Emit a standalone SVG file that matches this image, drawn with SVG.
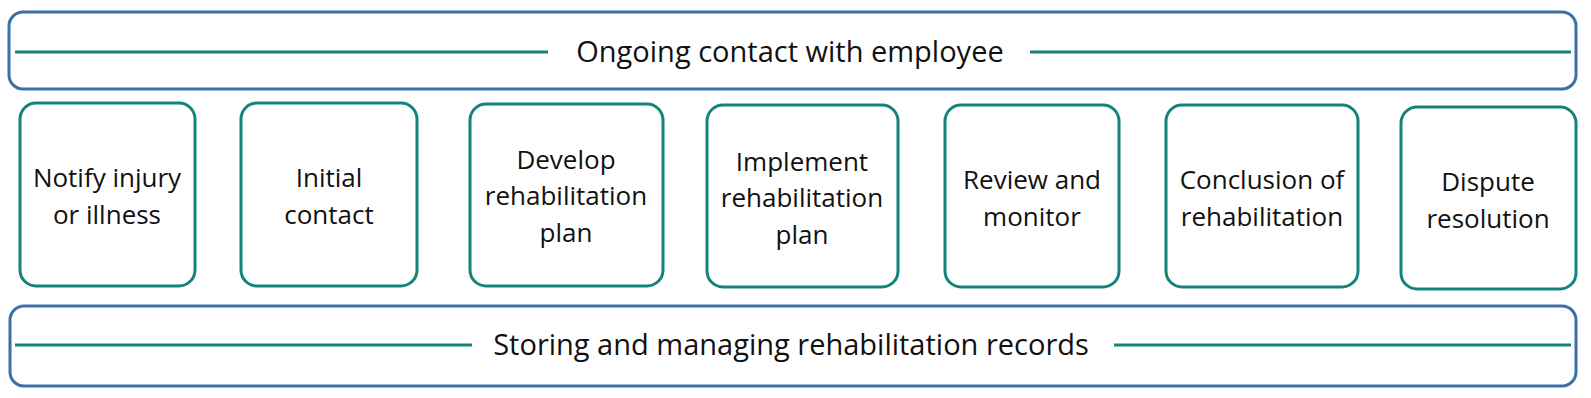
<svg xmlns="http://www.w3.org/2000/svg" width="1591" height="398" viewBox="0 0 1591 398">
<style>
.band{fill:#fff;stroke:#3B71A6;stroke-width:3}
.node{fill:#fff;stroke:#14837B;stroke-width:3}
.ln{stroke:#14837B;stroke-width:3}
text{font-family:"Open Sans","Liberation Sans",sans-serif;font-size:26px;fill:#111;text-anchor:middle}
.bt{font-size:29px}
</style>
<rect width="1591" height="398" fill="#fff"/>
<g id="band-top">
<rect class="band" x="9" y="12" width="1567" height="77" rx="14"/>
<line class="ln" x1="15" y1="52" x2="548" y2="52"/>
<line class="ln" x1="1030" y1="52" x2="1571" y2="52"/>
<text class="bt" x="790" y="62">Ongoing contact with employee</text>
</g>
<g id="band-bottom">
<rect class="band" x="10" y="306" width="1566" height="80" rx="14"/>
<line class="ln" x1="15" y1="345" x2="472" y2="345"/>
<line class="ln" x1="1114" y1="345" x2="1571" y2="345"/>
<text class="bt" x="791" y="355">Storing and managing rehabilitation records</text>
</g>
<g id="n1"><rect class="node" x="20" y="103" width="175" height="183" rx="16"/><text x="107" y="187">Notify injury</text><text x="107" y="224">or illness</text></g>
<g id="n2"><rect class="node" x="241" y="103" width="176" height="183" rx="16"/><text x="329" y="187">Initial</text><text x="329" y="224">contact</text></g>
<g id="n3"><rect class="node" x="470" y="104" width="193" height="182" rx="16"/><text x="566" y="169">Develop</text><text x="566" y="205">rehabilitation</text><text x="566" y="242">plan</text></g>
<g id="n4"><rect class="node" x="707" y="105" width="191" height="182" rx="16"/><text x="802" y="171">Implement</text><text x="802" y="207">rehabilitation</text><text x="802" y="244">plan</text></g>
<g id="n5"><rect class="node" x="945" y="105" width="174" height="182" rx="16"/><text x="1032" y="189">Review and</text><text x="1032" y="226">monitor</text></g>
<g id="n6"><rect class="node" x="1166" y="105" width="192" height="182" rx="16"/><text x="1262" y="189">Conclusion of</text><text x="1262" y="226">rehabilitation</text></g>
<g id="n7"><rect class="node" x="1401" y="107" width="175" height="182" rx="16"/><text x="1488" y="191">Dispute</text><text x="1488" y="228">resolution</text></g>
<g id="connectors"></g>
</svg>
